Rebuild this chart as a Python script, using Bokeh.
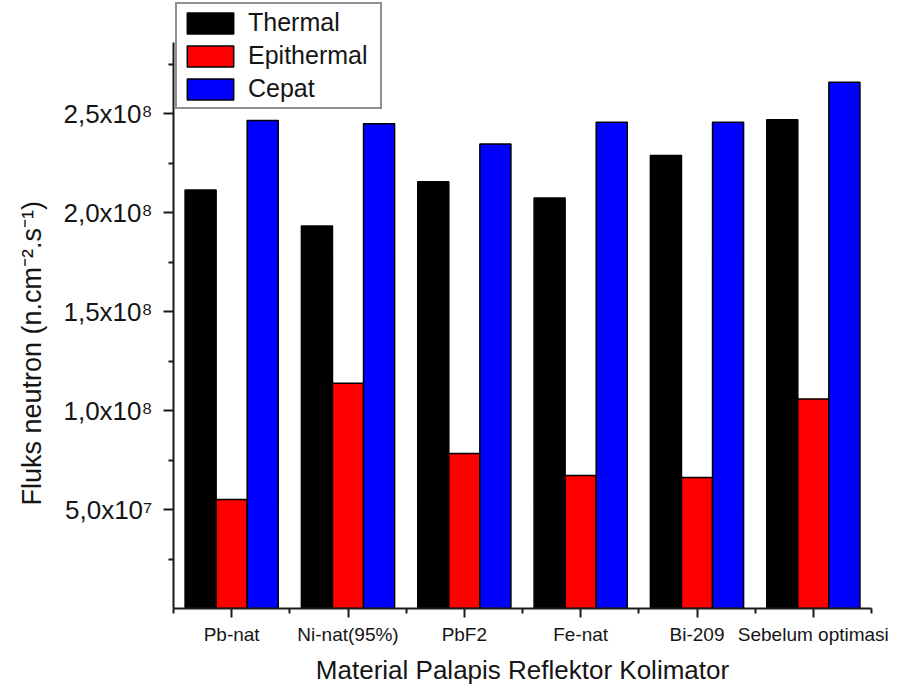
from bokeh.plotting import figure
from bokeh.models import ColumnDataSource, FixedTicker, Legend, LegendItem, Range1d
from bokeh.embed import file_html
from bokeh.resources import INLINE
from bokeh.transform import dodge

# ---- data ----
categories = ["Pb-nat", "Ni-nat(95%)", "PbF2", "Fe-nat", "Bi-209", "Sebelum optimasi"]
thermal = [2.115e8, 1.933e8, 2.157e8, 2.075e8, 2.289e8, 2.470e8]
epithermal = [0.551e8, 1.138e8, 0.784e8, 0.672e8, 0.662e8, 1.059e8]
cepat = [2.466e8, 2.450e8, 2.348e8, 2.458e8, 2.458e8, 2.660e8]
series_names = ["Thermal", "Epithermal", "Cepat"]
series_colors = ["#000000", "#FF0000", "#0000FF"]

y_tick_values = [5e7, 1e8, 1.5e8, 2e8, 2.5e8]
y_minor_values = [2.5e7, 7.5e7, 1.25e8, 1.75e8, 2.25e8, 2.75e8]
y_tick_labels = ["5,0x10\u2077", "1,0x10\u2078", "1,5x10\u2078", "2,0x10\u2078", "2,5x10\u2078"]
y_axis_top = 2.86e8

x_title = "Material Palapis Reflektor Kolimator"
y_title = "Fluks neutron (n.cm\u207b\u00b2.s\u207b\u00b9)"

FONT = "Liberation Sans"
TXT = "#151515"
AX = "#1a1a1a"

xs = list(range(1, len(categories) + 1))
src = ColumnDataSource(data=dict(x=xs, Thermal=thermal, Epithermal=epithermal, Cepat=cepat))

p = figure(width=898, height=688, x_range=Range1d(0.5, len(categories) + 0.5),
           y_range=Range1d(0, 3.073e8), output_backend="svg", toolbar_location=None,
           title=y_title, title_location="left",
           min_border_left=172, min_border_right=27, min_border_top=0, min_border_bottom=80)
p.outline_line_color = None
p.grid.visible = False
p.background_fill_color = "white"
p.border_fill_color = "white"

p.title.align = "left"
p.title.offset = 103
p.title.standoff = 28
p.title.text_font = FONT
p.title.text_font_size = "27px"
p.title.text_font_style = "normal"
p.title.text_color = TXT

bw = 0.267
offsets = [-bw, 0.0, bw]
renderers = []
for name, col, off in zip(series_names, series_colors, offsets):
    r = p.vbar(x=dodge("x", off, range=p.x_range), top=name, width=bw, bottom=0, source=src,
               fill_color=col, line_color="black", line_width=1.5)
    renderers.append(r)

# x axis
xa = p.xaxis[0]
xa.ticker = FixedTicker(ticks=xs, minor_ticks=[v - 0.5 for v in xs] + [xs[-1] + 0.5])
xa.major_label_overrides = {v: c for v, c in zip(xs, categories)}
xa.major_label_text_font = FONT
xa.major_label_text_font_size = "19px"
xa.major_label_text_color = TXT
xa.major_label_standoff = 6
xa.axis_line_width = 2
xa.axis_line_color = AX
xa.major_tick_line_width = 2
xa.major_tick_line_color = AX
xa.minor_tick_line_width = 2
xa.minor_tick_line_color = AX
xa.major_tick_out = 9
xa.major_tick_in = 0
xa.minor_tick_out = 5
xa.minor_tick_in = 0
xa.axis_label = x_title
xa.axis_label_text_font = FONT
xa.axis_label_text_font_size = "26px"
xa.axis_label_text_font_style = "normal"
xa.axis_label_text_color = TXT
xa.axis_label_standoff = 7

# y axis
ya = p.yaxis[0]
ya.bounds = (0, y_axis_top)
ya.ticker = FixedTicker(ticks=y_tick_values, minor_ticks=y_minor_values)
ya.major_label_overrides = {v: t for v, t in zip(y_tick_values, y_tick_labels)}
ya.major_label_text_font = FONT
ya.major_label_text_font_size = "26px"
ya.major_label_text_color = TXT
ya.major_label_standoff = 11
ya.axis_line_width = 2
ya.axis_line_color = AX
ya.major_tick_line_width = 2
ya.major_tick_line_color = AX
ya.minor_tick_line_width = 2
ya.minor_tick_line_color = AX
ya.major_tick_out = 10
ya.major_tick_in = 0
ya.minor_tick_out = 5
ya.minor_tick_in = 0

legend = Legend(items=[LegendItem(label=n, renderers=[r]) for n, r in zip(series_names, renderers)],
                location=(2, 499))
legend.label_text_font = FONT
legend.label_text_font_size = "25px"
legend.label_text_color = TXT
legend.glyph_width = 58
legend.glyph_height = 26
legend.label_height = 26
legend.label_width = 128
legend.spacing = 4
legend.padding = 4
legend.margin = 0
legend.label_standoff = 9
legend.border_line_color = "#222222"
legend.border_line_width = 2
legend.background_fill_color = "white"
legend.background_fill_alpha = 1.0
p.add_layout(legend)

open("out.html", "w").write(file_html(p, INLINE))
